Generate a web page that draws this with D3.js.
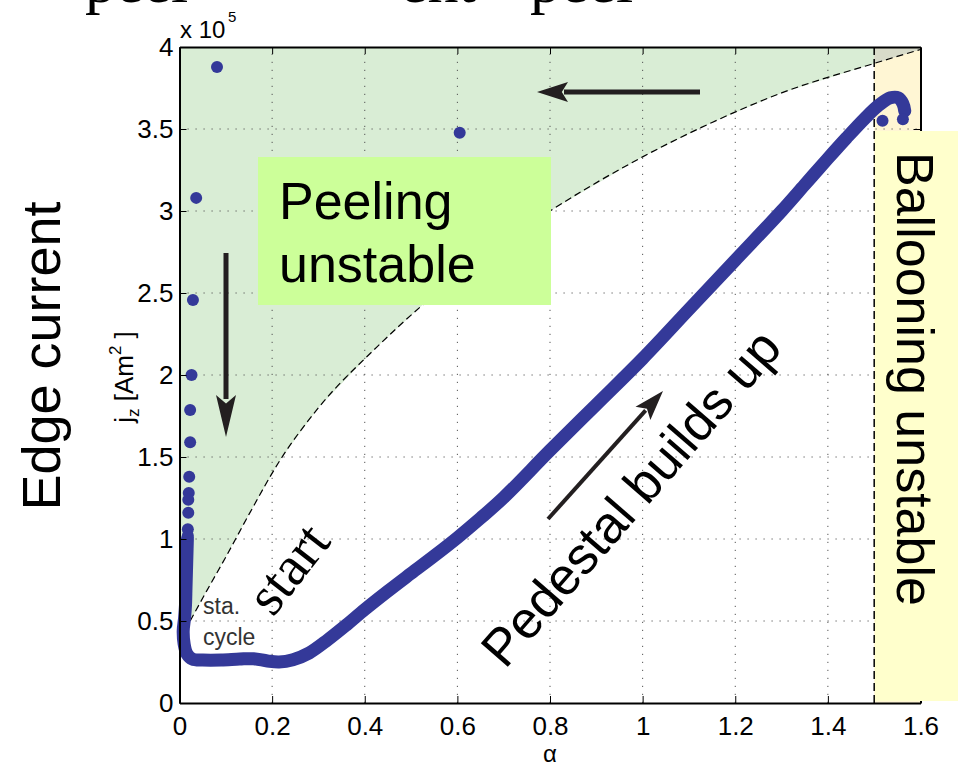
<!DOCTYPE html>
<html>
<head>
<meta charset="utf-8">
<script src="https://cdn.jsdelivr.net/npm/d3@7"></script>
<style>
  body { margin: 0; background: #fff; }
  svg { display: block; }
  .tick text { font-family: "Liberation Sans", Arial, sans-serif; font-size: 26px; fill: #000; }
  .axis path, .axis line { stroke: #000; }
  .grid line { stroke: #555; stroke-width: 1; stroke-dasharray: 1.2,6.8; }
  .sans { font-family: "Liberation Sans", Arial, sans-serif; fill: #000; }
  .serif { font-family: "Liberation Serif", "Times New Roman", serif; fill: #000; }
</style>
</head>
<body>
<div id="chart"></div>
<script>
// ticks
const xTicks = [0, 0.2, 0.4, 0.6, 0.8, 1.0, 1.2, 1.4, 1.6];
const xTickLabels = ["0", "0.2", "0.4", "0.6", "0.8", "1", "1.2", "1.4", "1.6"];
const yTicks = [0, 0.5, 1, 1.5, 2, 2.5, 3, 3.5, 4];
const yTickLabels = ["0", "0.5", "1", "1.5", "2", "2.5", "3", "3.5", "4"];

// [alpha, j_z / 1e5] : dense part of the ELM cycle
const cycle = [
  [0.017, 1.0], [0.016, 0.9], [0.015, 0.8], [0.014, 0.7], [0.013, 0.6], [0.011, 0.52],
  [0.008, 0.44], [0.010, 0.36], [0.016, 0.30], [0.028, 0.268], [0.05, 0.262], [0.09, 0.262],
  [0.13, 0.268], [0.16, 0.27], [0.19, 0.256], [0.215, 0.25], [0.245, 0.264], [0.28, 0.305],
  [0.32, 0.385], [0.36, 0.475], [0.40, 0.57], [0.45, 0.682], [0.5, 0.79], [0.55, 0.897],
  [0.6, 1.008], [0.65, 1.127], [0.7, 1.253], [0.8, 1.54], [0.9, 1.82], [1.0, 2.1],
  [1.1, 2.4], [1.2, 2.7], [1.3, 3.0], [1.35, 3.16], [1.4, 3.32], [1.44, 3.445],
  [1.48, 3.565], [1.51, 3.645], [1.535, 3.69], [1.552, 3.69], [1.562, 3.655], [1.566, 3.61]
];

// isolated points (crash and recovery)
const crashDots = [
  [0.605, 3.477], [0.081, 3.878], [0.036, 3.08], [0.029, 2.457], [0.026, 2.0],
  [0.023, 1.787], [0.023, 1.59], [0.021, 1.38], [0.020, 1.28], [0.019, 1.24],
  [0.019, 1.16], [0.018, 1.06], [0.018, 1.02], [1.518, 3.55], [1.562, 3.559]
];

// peeling stability boundary
const peelingBoundary = [
  [0.023, 0.5], [0.06, 0.69], [0.1, 0.89], [0.15, 1.15], [0.217, 1.48], [0.3, 1.8],
  [0.426, 2.17], [0.526, 2.43], [0.65, 2.71], [0.8, 3.0], [1.0, 3.33], [1.15, 3.54],
  [1.3, 3.72], [1.5, 3.9], [1.6, 3.985]
];

// ballooning limit in alpha
const ballooningAlpha = 1.5;

const width = 958, height = 765;
const svg = d3.select("#chart").append("svg")
  .attr("width", width)
  .attr("height", height);

const x = d3.scaleLinear().domain([0, 1.6]).range([179.5, 920.5]);
const y = d3.scaleLinear().domain([0, 4]).range([703, 47]);

const line = d3.line().x(d => x(d[0])).y(d => y(d[1]));

//--------------------------------------------------
// top text, cut by the page edge
//--------------------------------------------------
[["peel", 85], ["ent", 400], ["peel", 530]].forEach(t => {
  svg.append("text").attr("class", "serif")
    .attr("x", t[1]).attr("y", 2)
    .style("font-size", "62px")
    .text(t[0]);
});

//--------------------------------------------------
// regions
//--------------------------------------------------
let defs = svg.append("defs");
defs.append("clipPath").attr("id", "clipLeft")
  .append("rect")
  .attr("x", x(0)).attr("y", y(4))
  .attr("width", x(ballooningAlpha) - x(0)).attr("height", y(0) - y(4));
defs.append("clipPath").attr("id", "clipRight")
  .append("rect")
  .attr("x", x(ballooningAlpha)).attr("y", y(4))
  .attr("width", x(1.6) - x(ballooningAlpha)).attr("height", y(0) - y(4));

// yellow ballooning band
svg.append("rect")
  .attr("x", x(ballooningAlpha)).attr("y", y(4))
  .attr("width", x(1.6) - x(ballooningAlpha)).attr("height", y(0) - y(4))
  .style("fill", "#fff6d4");

let peelPoly = [[0, 4], [1.6, 4]].concat(peelingBoundary.slice().reverse()).concat([[0, 0.5]]);
svg.append("path")
  .attr("d", line(peelPoly) + "Z")
  .attr("clip-path", "url(#clipLeft)")
  .style("fill", "#d9edd5");
svg.append("path")
  .attr("d", line(peelPoly) + "Z")
  .attr("clip-path", "url(#clipRight)")
  .style("fill", "#d8dbc9");

//--------------------------------------------------
// grid
//--------------------------------------------------
let grid = svg.append("g").attr("class", "grid");
grid.selectAll(".gx")
  .data(xTicks.slice(1, -1))
  .enter().append("line")
  .attr("x1", d => x(d)).attr("x2", d => x(d))
  .attr("y1", y(0)).attr("y2", y(4));
grid.selectAll(".gy")
  .data(yTicks.slice(1, -1))
  .enter().append("line")
  .attr("x1", x(0)).attr("x2", x(1.6))
  .attr("y1", d => y(d)).attr("y2", d => y(d));

// boundaries
svg.append("path")
  .attr("d", d3.line().x(d => x(d[0])).y(d => y(d[1])).curve(d3.curveMonotoneX)(peelingBoundary))
  .style("fill", "none").style("stroke", "#000")
  .style("stroke-width", 1.2).style("stroke-dasharray", "7,4");
svg.append("line")
  .attr("x1", x(ballooningAlpha)).attr("x2", x(ballooningAlpha))
  .attr("y1", y(4)).attr("y2", y(0))
  .style("stroke", "#000").style("stroke-width", 1.5).style("stroke-dasharray", "8,4");

//--------------------------------------------------
// data
//--------------------------------------------------
svg.append("path")
  .attr("d", d3.line().x(d => x(d[0])).y(d => y(d[1])).curve(d3.curveCatmullRom)(cycle))
  .style("fill", "none")
  .style("stroke", "#343999")
  .style("stroke-width", 13)
  .style("stroke-linecap", "round")
  .style("stroke-linejoin", "round");

svg.selectAll(".dot")
  .data(crashDots)
  .enter().append("circle")
  .attr("cx", d => x(d[0]))
  .attr("cy", d => y(d[1]))
  .attr("r", 6)
  .style("fill", "#343999");

//--------------------------------------------------
// annotations
//--------------------------------------------------
function arrow(x1, y1, x2, y2, headLen, headW, w) {
  let dx = x2 - x1, dy = y2 - y1;
  let len = Math.sqrt(dx * dx + dy * dy);
  let ux = dx / len, uy = dy / len;
  let bx = x2 - ux * headLen, by = y2 - uy * headLen;
  svg.append("line")
    .attr("x1", x1).attr("y1", y1).attr("x2", bx + ux * 4).attr("y2", by + uy * 4)
    .style("stroke", "#231f20").style("stroke-width", w);
  svg.append("path")
    .attr("d", "M" + x2 + "," + y2 +
      "L" + (bx - uy * headW / 2) + "," + (by + ux * headW / 2) +
      "L" + (bx + ux * headLen * 0.2) + "," + (by + uy * headLen * 0.2) +
      "L" + (bx + uy * headW / 2) + "," + (by - ux * headW / 2) + "Z")
    .style("fill", "#231f20");
}
arrow(700, 92, 537, 92, 31, 20, 5);
arrow(226, 253, 226, 437, 42, 20, 5);
arrow(548, 519, 663, 391, 30, 20, 4);

// peeling box
svg.append("rect")
  .attr("x", 258).attr("y", 157)
  .attr("width", 293).attr("height", 148)
  .style("fill", "#ccff99");
svg.append("text").attr("class", "sans")
  .attr("x", 279).attr("y", 219)
  .style("font-size", "52px")
  .text("Peeling");
svg.append("text").attr("class", "sans")
  .attr("x", 279).attr("y", 282)
  .style("font-size", "52px")
  .text("unstable");

svg.append("text").attr("class", "sans")
  .attr("transform", "translate(505,670) rotate(-49)")
  .style("font-size", "52px")
  .text("Pedestal builds up");

svg.append("text").attr("class", "serif")
  .attr("transform", "translate(273,618) rotate(-52)")
  .style("font-size", "56px")
  .text("start");

svg.append("text").attr("class", "sans")
  .attr("x", 203).attr("y", 614)
  .style("font-size", "23px").style("fill", "#333")
  .text("sta.");
svg.append("text").attr("class", "sans")
  .attr("x", 203).attr("y", 645)
  .style("font-size", "23px").style("fill", "#333")
  .text("cycle");

//--------------------------------------------------
// axes
//--------------------------------------------------
svg.append("g").attr("class", "axis")
  .attr("transform", "translate(0," + y(0) + ")")
  .call(d3.axisBottom(x).tickValues(xTicks).tickFormat((d, i) => xTickLabels[i])
    .tickSizeInner(-7).tickSizeOuter(0).tickPadding(14))
  .call(g => g.select(".domain").style("stroke-width", 2));
svg.append("g").attr("class", "axis")
  .attr("transform", "translate(" + x(0) + ",0)")
  .call(d3.axisLeft(y).tickValues(yTicks).tickFormat((d, i) => yTickLabels[i])
    .tickSizeInner(-7).tickSizeOuter(0).tickPadding(6))
  .call(g => g.select(".domain").style("stroke-width", 2));
svg.append("g").attr("class", "axis")
  .attr("transform", "translate(0," + y(4) + ")")
  .call(d3.axisTop(x).tickValues(xTicks).tickFormat("").tickSizeInner(-7).tickSizeOuter(0))
  .call(g => g.select(".domain").style("stroke-width", 2));
svg.append("g").attr("class", "axis")
  .attr("transform", "translate(" + x(1.6) + ",0)")
  .call(d3.axisRight(y).tickValues(yTicks).tickFormat("").tickSizeInner(-7).tickSizeOuter(0))
  .call(g => g.select(".domain").style("stroke-width", 2));

// ballooning label box, drawn over the right border
svg.append("rect")
  .attr("x", x(ballooningAlpha) + 1).attr("y", 131)
  .attr("width", width - x(ballooningAlpha)).attr("height", 570)
  .style("fill", "#ffffcc");
svg.append("text").attr("class", "sans")
  .attr("transform", "translate(897,152) rotate(90)")
  .style("font-size", "52px")
  .text("Ballooning unstable");

// axis labels
svg.append("text").attr("class", "sans")
  .attr("x", 180).attr("y", 38)
  .style("font-size", "24px")
  .text("x 10");
svg.append("text").attr("class", "sans")
  .attr("x", 228).attr("y", 22)
  .style("font-size", "15px")
  .text("5");

svg.append("text").attr("class", "sans")
  .attr("x", 550).attr("y", 762)
  .attr("text-anchor", "middle")
  .style("font-size", "24px")
  .text("α");

let yl = svg.append("text").attr("class", "sans")
  .attr("transform", "translate(133,377) rotate(-90)")
  .attr("text-anchor", "middle")
  .style("font-size", "26px");
yl.append("tspan").text("j");
yl.append("tspan").attr("dy", 6).style("font-size", "17px").text("z");
yl.append("tspan").attr("dy", -6).text(" [Am");
yl.append("tspan").attr("dy", -12).style("font-size", "17px").text("2");
yl.append("tspan").attr("dy", 12).text(" ]");

svg.append("text").attr("class", "sans")
  .attr("transform", "translate(60,356) rotate(-90)")
  .attr("text-anchor", "middle")
  .style("font-size", "54px")
  .text("Edge current");
</script>
</body>
</html>
